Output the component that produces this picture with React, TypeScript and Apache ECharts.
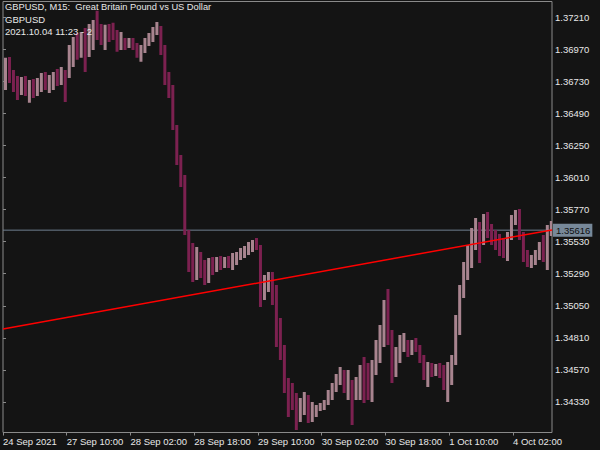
import React, { useEffect, useRef } from "react";
import * as echarts from "echarts";

// Hourly bars (open, close, low, high)
const bars: number[][] = [
  [1.36703, 1.36891, 1.36666, 1.36906],
  [1.36891, 1.36778, 1.36718, 1.36913],
  [1.36778, 1.36681, 1.36651, 1.36816],
  [1.36681, 1.36651, 1.36591, 1.36771],
  [1.36651, 1.36726, 1.36628, 1.36763],
  [1.36726, 1.36666, 1.36621, 1.36771],
  [1.36666, 1.36696, 1.36569, 1.36741],
  [1.36696, 1.36651, 1.36606, 1.36748],
  [1.36651, 1.36726, 1.36621, 1.36756],
  [1.36726, 1.36756, 1.36651, 1.36793],
  [1.36756, 1.36703, 1.36666, 1.36801],
  [1.36703, 1.36741, 1.36643, 1.36778],
  [1.36741, 1.36771, 1.36666, 1.36801],
  [1.36771, 1.36741, 1.36696, 1.36823],
  [1.36741, 1.36801, 1.36703, 1.36838],
  [1.36801, 1.36756, 1.36576, 1.36816],
  [1.36756, 1.36928, 1.36756, 1.37003],
  [1.36928, 1.37003, 1.36838, 1.37063],
  [1.37003, 1.36965, 1.36891, 1.37093],
  [1.36965, 1.3704, 1.36906, 1.371],
  [1.3704, 1.37003, 1.36801, 1.3713],
  [1.37003, 1.37078, 1.36913, 1.3716],
  [1.37078, 1.3713, 1.36965, 1.3719],
  [1.3713, 1.37115, 1.3704, 1.37258],
  [1.37115, 1.37055, 1.37003, 1.3716],
  [1.37055, 1.371, 1.36965, 1.37153],
  [1.371, 1.37078, 1.37025, 1.3716],
  [1.37078, 1.37055, 1.3704, 1.37168],
  [1.37055, 1.37003, 1.36951, 1.37115],
  [1.37003, 1.3704, 1.36965, 1.371],
  [1.3704, 1.3701, 1.36965, 1.37055],
  [1.3701, 1.37025, 1.3698, 1.37055],
  [1.37025, 1.36995, 1.36965, 1.37055],
  [1.36995, 1.36928, 1.36906, 1.37018],
  [1.36928, 1.36965, 1.36876, 1.37003],
  [1.36965, 1.3701, 1.36943, 1.37055],
  [1.3701, 1.3707, 1.36995, 1.37093],
  [1.3707, 1.37115, 1.37025, 1.37138],
  [1.37115, 1.3713, 1.37078, 1.37175],
  [1.3713, 1.36965, 1.36928, 1.37145],
  [1.36965, 1.36741, 1.36703, 1.37003],
  [1.36741, 1.36666, 1.36606, 1.36801],
  [1.36666, 1.36404, 1.36366, 1.36703],
  [1.36404, 1.36142, 1.36104, 1.36404],
  [1.36142, 1.35992, 1.35939, 1.36179],
  [1.35992, 1.35617, 1.3558, 1.36029],
  [1.35617, 1.3543, 1.35303, 1.35617],
  [1.3543, 1.35355, 1.35228, 1.3552],
  [1.35355, 1.35393, 1.35243, 1.3549],
  [1.35393, 1.35318, 1.35258, 1.35452],
  [1.35318, 1.3528, 1.35205, 1.35393],
  [1.3528, 1.35355, 1.3522, 1.35408],
  [1.35355, 1.35333, 1.3528, 1.35415],
  [1.35333, 1.35378, 1.35303, 1.35415],
  [1.35378, 1.35355, 1.35318, 1.35423],
  [1.35355, 1.35393, 1.35333, 1.35415],
  [1.35393, 1.3537, 1.35333, 1.35423],
  [1.3537, 1.35408, 1.35318, 1.35445],
  [1.35408, 1.3543, 1.35355, 1.35452],
  [1.3543, 1.35452, 1.35393, 1.35482],
  [1.35452, 1.35482, 1.35408, 1.35497],
  [1.35482, 1.35505, 1.3543, 1.35527],
  [1.35505, 1.35527, 1.35452, 1.35542],
  [1.35527, 1.35505, 1.35467, 1.35557],
  [1.35505, 1.35168, 1.35041, 1.35505],
  [1.35168, 1.35205, 1.35093, 1.3528],
  [1.35205, 1.35228, 1.35153, 1.35303],
  [1.35228, 1.3513, 1.35056, 1.35303],
  [1.3513, 1.34868, 1.34741, 1.35205],
  [1.34868, 1.34718, 1.34644, 1.34958],
  [1.34718, 1.34456, 1.34396, 1.34756],
  [1.34456, 1.34381, 1.34217, 1.34509],
  [1.34381, 1.34344, 1.34269, 1.34471],
  [1.34344, 1.34269, 1.34119, 1.34396],
  [1.34269, 1.34307, 1.34179, 1.34359],
  [1.34307, 1.34344, 1.34232, 1.34404],
  [1.34344, 1.34232, 1.34172, 1.34381],
  [1.34232, 1.34269, 1.34179, 1.34329],
  [1.34269, 1.34284, 1.34217, 1.34307],
  [1.34284, 1.34299, 1.34262, 1.34322],
  [1.34299, 1.34329, 1.34269, 1.34344],
  [1.34329, 1.34381, 1.34307, 1.34419],
  [1.34381, 1.34434, 1.34344, 1.34471],
  [1.34434, 1.34494, 1.34404, 1.34539],
  [1.34494, 1.34554, 1.34456, 1.34591],
  [1.34554, 1.34456, 1.34396, 1.34569],
  [1.34456, 1.34494, 1.34344, 1.34569],
  [1.34494, 1.34381, 1.34157, 1.34494],
  [1.34381, 1.34456, 1.34344, 1.34516],
  [1.34456, 1.34569, 1.34344, 1.34606],
  [1.34569, 1.34494, 1.34322, 1.34666],
  [1.34494, 1.34419, 1.34344, 1.34621],
  [1.34419, 1.34569, 1.34329, 1.34644],
  [1.34569, 1.34718, 1.34531, 1.34793],
  [1.34718, 1.34831, 1.34621, 1.34906],
  [1.34831, 1.34943, 1.34741, 1.35093],
  [1.34943, 1.34831, 1.34756, 1.35175],
  [1.34831, 1.34644, 1.34471, 1.34868],
  [1.34644, 1.34681, 1.34516, 1.34741],
  [1.34681, 1.34756, 1.34621, 1.34831],
  [1.34756, 1.34793, 1.34704, 1.34846],
  [1.34793, 1.34718, 1.34666, 1.34793],
  [1.34718, 1.34756, 1.34681, 1.34793],
  [1.34756, 1.34733, 1.34704, 1.34808],
  [1.34733, 1.34659, 1.34621, 1.34756],
  [1.34659, 1.34554, 1.34494, 1.34681],
  [1.34554, 1.34569, 1.34441, 1.34629],
  [1.34569, 1.34554, 1.34516, 1.34621],
  [1.34554, 1.34584, 1.34524, 1.34614],
  [1.34584, 1.34554, 1.34509, 1.34621],
  [1.34554, 1.34494, 1.34419, 1.34606],
  [1.34494, 1.34531, 1.34329, 1.34629],
  [1.34531, 1.34644, 1.34456, 1.34681],
  [1.34644, 1.34906, 1.34606, 1.34981],
  [1.34906, 1.3513, 1.34831, 1.35205],
  [1.3513, 1.35318, 1.35108, 1.35378],
  [1.35318, 1.3543, 1.35243, 1.35505],
  [1.3543, 1.3558, 1.35333, 1.35632],
  [1.3558, 1.35617, 1.35467, 1.35707],
  [1.35617, 1.35542, 1.3537, 1.35677],
  [1.35542, 1.35677, 1.35505, 1.35737],
  [1.35677, 1.35617, 1.35557, 1.35752],
  [1.35617, 1.35557, 1.35505, 1.35662],
  [1.35557, 1.35527, 1.35467, 1.35617],
  [1.35527, 1.35482, 1.35423, 1.35587],
  [1.35482, 1.35452, 1.35408, 1.35557],
  [1.35452, 1.3558, 1.35385, 1.35602],
  [1.3558, 1.35692, 1.35542, 1.3573],
  [1.35692, 1.3573, 1.35655, 1.35767],
  [1.3573, 1.3558, 1.35542, 1.35775],
  [1.3558, 1.3543, 1.35378, 1.35602],
  [1.3543, 1.35378, 1.3534, 1.35467],
  [1.35378, 1.35393, 1.35333, 1.3543],
  [1.35393, 1.35452, 1.35355, 1.35467],
  [1.35452, 1.35505, 1.35393, 1.35527],
  [1.35505, 1.35467, 1.35378, 1.3558],
  [1.35467, 1.35602, 1.35318, 1.35655],
  [1.35602, 1.35616, 1.35572, 1.35685],
];

const timeLabels = [
  "24 Sep 2021",
  "27 Sep 10:00",
  "28 Sep 02:00",
  "28 Sep 18:00",
  "29 Sep 10:00",
  "30 Sep 02:00",
  "30 Sep 18:00",
  "1 Oct 10:00",
  "4 Oct 02:00",
];
const timeTickHours = [0, 16, 32, 48, 64, 80, 96, 112, 128];

const priceTicks = [
  1.3433, 1.3457, 1.3481, 1.3505, 1.3529, 1.3553, 1.3577, 1.3601, 1.3625,
  1.3649, 1.3673, 1.3697, 1.3721,
];

const trendLine = [
  [0, 1.34876],
  [137.8, 1.35618],
];
const lastPrice = 1.35616;
const priceLine = [
  [0, lastPrice],
  [137.8, lastPrice],
];

const titleLines = [
  "GBPUSD, M15:  Great Britain Pound vs US Dollar",
  "GBPUSD",
  "2021.10.04 11:23 - 2",
];

const BULL = "#a8848f";
const BEAR = "#7c2150";
const FONT = "Liberation Sans";
const FS = 9.5;

export default function App() {
  const ref = useRef<HTMLDivElement>(null);
  useEffect(() => {
    if (!ref.current) return;
    const chart = echarts.init(ref.current, null, { renderer: "svg" });
    const data = bars.map((b, i) => [i + 0.5, b[0], b[1], b[2], b[3]]);
    chart.setOption({
      animation: false,
      backgroundColor: "#141414",
      grid: {
        left: 1,
        right: 48,
        top: 1.5,
        bottom: 17.5,
        show: true,
        borderColor: "#8a8a8a",
        borderWidth: 1,
        backgroundColor: "transparent",
      },
      xAxis: {
        type: "value",
        min: 0,
        max: 137.8,
        axisLine: { show: false },
        splitLine: { show: false },
        axisTick: {
          show: true,
          customValues: timeTickHours,
          length: 3,
          lineStyle: { color: "#8a8a8a" },
        },
        axisLabel: {
          customValues: timeTickHours,
          formatter: (v: number) => timeLabels[timeTickHours.indexOf(Math.round(v))] ?? "",
          align: "left",
          color: "#e8e8e8",
          fontFamily: FONT,
          fontSize: FS,
          margin: 4,
        },
      },
      yAxis: {
        type: "value",
        position: "right",
        min: 1.34101,
        max: 1.37328,
        axisLine: { show: false },
        splitLine: { show: false },
        axisTick: {
          show: true,
          customValues: priceTicks,
          length: 3,
          lineStyle: { color: "#8a8a8a" },
        },
        axisLabel: {
          customValues: priceTicks,
          formatter: (v: number) => v.toFixed(5),
          color: "#e8e8e8",
          fontFamily: FONT,
          fontSize: FS,
          margin: 3,
        },
      },
      graphic: titleLines.map((t, i) => ({
        type: "text",
        left: 5,
        top: [2.5, 14, 26][i],
        style: { text: t, fill: "#e8e8e8", font: `${i === 0 ? 9.3 : FS}px ${FONT}` },
        z: 10,
      })),
      series: [
        {
          type: "custom",
          data,
          clip: true,
          encode: { x: 0, y: [3, 4] },
          renderItem: (params: any, api: any) => {
            const x = api.value(0);
            const o = api.value(1);
            const c = api.value(2);
            const lo = api.coord([x, api.value(3)]);
            const hi = api.coord([x, api.value(4)]);
            return {
              type: "rect",
              shape: { x: lo[0] - 1, y: hi[1], width: 3, height: Math.max(1, lo[1] - hi[1]) },
              style: { fill: c >= o ? BULL : BEAR },
            };
          },
          z: 2,
        },
        {
          type: "line",
          data: priceLine,
          symbol: "none",
          lineStyle: { color: "#6f7f8f", width: 1 },
          z: 1,
          endLabel: {
            show: true,
            formatter: lastPrice.toFixed(5),
            backgroundColor: "#778899",
            color: "#101010",
            fontFamily: FONT,
            fontSize: FS,
            padding: [2, 2, 1, 3],
            distance: 1,
          },
        },
        {
          type: "line",
          data: trendLine,
          symbol: "none",
          lineStyle: { color: "#ff0000", width: 1.5 },
          z: 4,
        },
      ],
    });
    return () => chart.dispose();
  }, []);
  return (
    <div
      ref={ref}
      style={{ position: "fixed", left: 0, top: 0, width: 600, height: 450 }}
    />
  );
}
